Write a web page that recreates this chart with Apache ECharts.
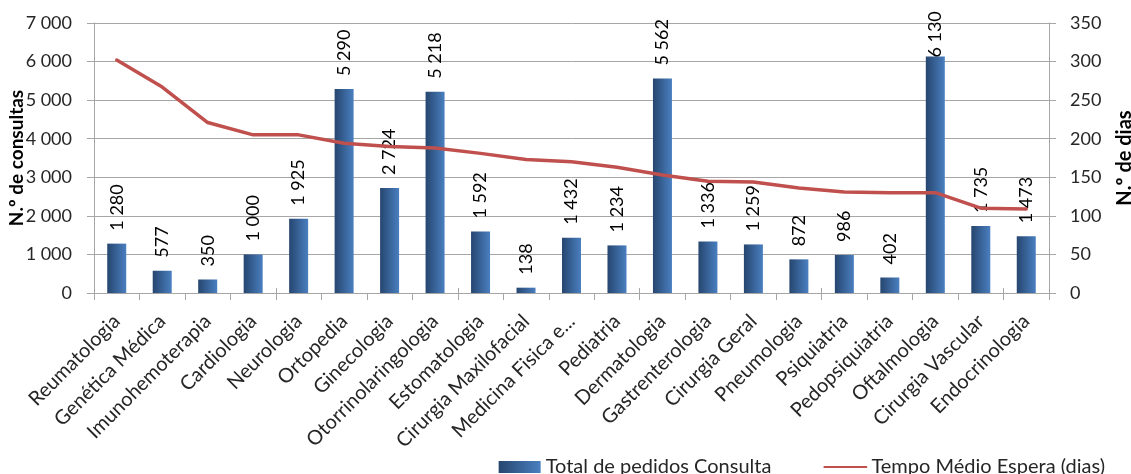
<!DOCTYPE html>
<html>
<head>
<meta charset="utf-8">
<script src="https://cdn.jsdelivr.net/npm/echarts@6/dist/echarts.min.js"></script>
<style>
  html, body { margin: 0; padding: 0; background: #fff; }
  #chart { width: 1131px; height: 474px; }
</style>
</head>
<body>
<div id="chart"></div>
<script>
// Especialidades, total de pedidos de consulta e tempo médio de espera (dias)
const especialidades = [
  'Reumatologia', 'Genética Médica', 'Imunohemoterapia', 'Cardiologia', 'Neurologia',
  'Ortopedia', 'Ginecologia', 'Otorrinolaringologia', 'Estomatologia', 'Cirurgia Maxilofacial',
  'Medicina Fisica e...', 'Pediatria', 'Dermatologia', 'Gastrenterologia', 'Cirurgia Geral',
  'Pneumologia', 'Psiquiatria', 'Pedopsiquiatria', 'Oftalmologia', 'Cirurgia Vascular',
  'Endocrinologia'
];
const totalPedidos = [
  1280, 577, 350, 1000, 1925, 5290, 2724, 5218, 1592, 138,
  1432, 1234, 5562, 1336, 1259, 872, 986, 402, 6130, 1735, 1473
];
const tempoMedio = [
  302, 267, 221, 205, 205, 194, 190, 188, 181, 173,
  170, 163, 153, 145, 144, 136, 131, 130, 130, 110, 109
];
const consultasTicks = { min: 0, max: 7000, interval: 1000 };
const diasTicks = { min: 0, max: 350, interval: 50 };

const FONT = 'Lato';
const TEXT = '#262626';
const GRID = '#a6a6a6';

function milhares(v) {
  return String(v).replace(/\B(?=(\d{3})+(?!\d))/g, ' ');
}

// bars shade from dark navy on the left edge to a lighter blue on the right
const barGradient = new echarts.graphic.LinearGradient(0, 0, 1, 0, [
  { offset: 0, color: '#26466f' },
  { offset: 1, color: '#4a7fc0' }
]);

const maxPedidos = Math.max(...totalPedidos);

const chart = echarts.init(document.getElementById('chart'), null, { renderer: 'canvas' });
chart.setOption({
  animation: false,
  textStyle: { fontFamily: FONT, color: TEXT },
  grid: { left: 94, right: 82, top: 23, bottom: 181, containLabel: false, outerBoundsMode: 'none' },
  legend: {
    right: 21,
    top: 452,
    itemGap: 52,
    itemWidth: 42,
    itemHeight: 12,
    textStyle: { fontFamily: FONT, fontSize: 20, color: TEXT },
    data: [
      { name: 'Total de pedidos Consulta', icon: 'rect' },
      { name: 'Tempo Médio Espera (dias)', itemStyle: { opacity: 0 } }
    ]
  },
  xAxis: [
    {
      type: 'category',
      data: especialidades,
      position: 'bottom',
      axisLine: { lineStyle: { color: GRID, width: 1 } },
      axisTick: { show: true, length: 7, alignWithLabel: false, lineStyle: { color: GRID } },
      axisLabel: {
        interval: 0,
        rotate: 45,
        margin: 25,
        fontFamily: FONT,
        fontSize: 20,
        color: TEXT
      }
    },
    {
      type: 'category',
      data: especialidades,
      position: 'top',
      axisLine: { show: true, lineStyle: { color: GRID, width: 1 } },
      axisTick: { show: true, length: 5, lineStyle: { color: GRID } },
      axisLabel: { show: false }
    }
  ],
  yAxis: [
    {
      type: 'value',
      min: consultasTicks.min,
      max: consultasTicks.max,
      interval: consultasTicks.interval,
      position: 'left',
      name: 'N.º de consultas',
      nameLocation: 'middle',
      nameGap: 68,
      nameRotate: 90,
      nameMoveOverlap: false,
      nameTextStyle: { fontFamily: FONT, fontSize: 19, fontWeight: 'bold', color: '#000' },
      axisLine: { show: true, lineStyle: { color: GRID } },
      axisTick: { show: true, length: 7, lineStyle: { color: GRID } },
      splitLine: { lineStyle: { color: GRID, width: 1 } },
      axisLabel: {
        margin: 22,
        fontFamily: FONT,
        fontSize: 18,
        color: TEXT,
        formatter: milhares
      }
    },
    {
      type: 'value',
      min: diasTicks.min,
      max: diasTicks.max,
      interval: diasTicks.interval,
      position: 'right',
      name: 'N.º de dias',
      nameLocation: 'middle',
      nameGap: 66,
      nameRotate: 90,
      nameTextStyle: { fontFamily: FONT, fontSize: 20, fontWeight: 'bold', color: '#000' },
      axisLine: { show: true, lineStyle: { color: GRID } },
      axisTick: { show: true, length: 7, lineStyle: { color: GRID } },
      splitLine: { show: false },
      axisLabel: {
        margin: 21,
        fontFamily: FONT,
        fontSize: 18,
        color: TEXT
      }
    }
  ],
  series: [
    {
      name: 'Total de pedidos Consulta',
      type: 'bar',
      xAxisIndex: 0,
      yAxisIndex: 0,
      barWidth: 19,
      itemStyle: { color: barGradient },
      label: {
        show: true,
        position: 'top',
        distance: 13,
        rotate: 90,
        align: 'left',
        verticalAlign: 'middle',
        fontFamily: FONT,
        fontSize: 18,
        color: '#000',
        formatter: p => milhares(p.value)
      },
      // the tallest bar's label is pulled down so it stays inside the plot
      data: totalPedidos.map(v => v === maxPedidos ? { value: v, label: { distance: -1 } } : v),
      z: 2
    },
    {
      name: 'Tempo Médio Espera (dias)',
      type: 'line',
      xAxisIndex: 0,
      yAxisIndex: 1,
      data: tempoMedio,
      symbol: 'none',
      showSymbol: false,
      lineStyle: { color: '#c0504d', width: 3.5, cap: 'round', join: 'round' },
      itemStyle: { color: '#c0504d' },
      z: 3
    }
  ]
});
</script>
</body>
</html>
